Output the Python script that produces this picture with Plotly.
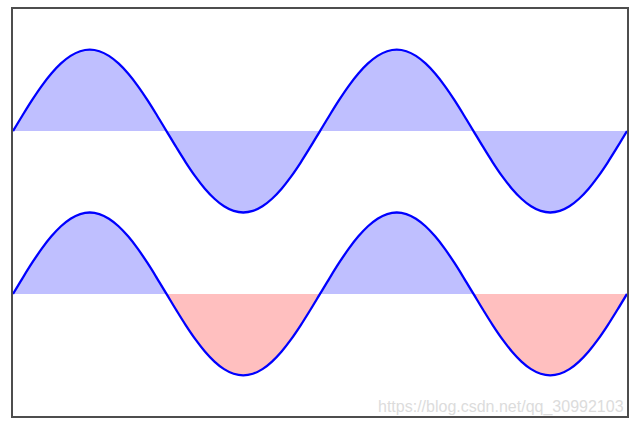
import numpy as np
import plotly.graph_objects as go

# one full-period sample of sin values (step pi/16 in phase)
wave_period = [0, 0.195, 0.383, 0.556, 0.707, 0.831, 0.924, 0.981,
               1, 0.981, 0.924, 0.831, 0.707, 0.556, 0.383, 0.195,
               0, -0.195, -0.383, -0.556, -0.707, -0.831, -0.924, -0.981,
               -1, -0.981, -0.924, -0.831, -0.707, -0.556, -0.383, -0.195]
wave = wave_period + wave_period + [0]
x_vals = list(np.linspace(-np.pi, np.pi, len(wave)))
top_offset = 1
bottom_offset = -1
watermark = "https://blog.csdn.net/qq_30992103"

BLUE_FILL = "rgba(0,0,255,0.25)"
RED_FILL = "rgba(255,0,0,0.25)"

top = [w + top_offset for w in wave]
bottom = [w + bottom_offset for w in wave]
top_base = [top_offset] * len(wave)
bot_base = [bottom_offset] * len(wave)
bot_pos = [max(b, bottom_offset) for b in bottom]
bot_neg = [min(b, bottom_offset) for b in bottom]

fig = go.Figure()
nol = dict(width=0, color="rgba(0,0,0,0)")
# top fill
fig.add_trace(go.Scatter(x=x_vals, y=top_base, mode="lines", line=nol, hoverinfo="skip"))
fig.add_trace(go.Scatter(x=x_vals, y=top, mode="lines", line=nol, fill="tonexty", fillcolor=BLUE_FILL, hoverinfo="skip"))
# bottom fills
fig.add_trace(go.Scatter(x=x_vals, y=bot_base, mode="lines", line=nol, hoverinfo="skip"))
fig.add_trace(go.Scatter(x=x_vals, y=bot_pos, mode="lines", line=nol, fill="tonexty", fillcolor=BLUE_FILL, hoverinfo="skip"))
fig.add_trace(go.Scatter(x=x_vals, y=bot_base, mode="lines", line=nol, hoverinfo="skip"))
fig.add_trace(go.Scatter(x=x_vals, y=bot_neg, mode="lines", line=nol, fill="tonexty", fillcolor=RED_FILL, hoverinfo="skip"))
# curves
fig.add_trace(go.Scatter(x=x_vals, y=top, mode="lines", line=dict(color="blue", width=2.3, shape="spline")))
fig.add_trace(go.Scatter(x=x_vals, y=bottom, mode="lines", line=dict(color="blue", width=2.3, shape="spline")))

axis_common = dict(showticklabels=False, ticks="", showgrid=False, zeroline=False,
                   showline=True, mirror=True, linecolor="#4d4d4d", linewidth=1.5)
fig.update_layout(
    width=636, height=425,
    margin=dict(l=13, r=8, t=7, b=9),
    paper_bgcolor="white", plot_bgcolor="white",
    showlegend=False,
    xaxis=dict(range=[-np.pi, np.pi], **axis_common),
    yaxis=dict(range=[-2.5, 2.5], **axis_common),
    annotations=[dict(text=watermark, xref="paper", yref="paper",
                      x=(627 - 13) / 615, y=(416 - 407) / 410,
                      xanchor="right", yanchor="middle", showarrow=False,
                      font=dict(family="Liberation Sans, Arial", size=16, color="#dcdcdc"))],
)
fig.write_html("out.html", config={"displayModeBar": False},
               post_script="document.body.style.margin='0';document.body.style.overflow='hidden';")
